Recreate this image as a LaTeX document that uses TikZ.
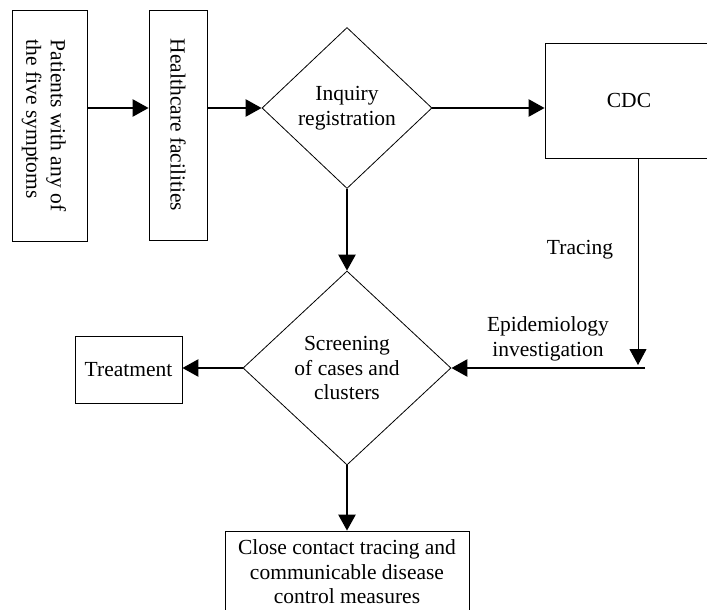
\documentclass[tikz,border=0pt]{standalone}
\usepackage{fontspec}
\setmainfont{Liberation Serif}
\usetikzlibrary{shapes.geometric, arrows.meta, positioning}

\begin{document}
\begin{tikzpicture}[x=1pt, y=-1pt,
    >={Triangle[length=16pt, width=17pt]},
    every node/.style={font=\fontsize{21.5}{24.5}\selectfont},
    box/.style={draw, line width=0.8pt, inner sep=0pt, align=center},
    decision/.style={diamond, draw, line width=0.8pt, inner sep=0pt, align=center},
    flow/.style={->, line width=2.5pt},
    thinflow/.style={->, line width=0.9pt}]

    \useasboundingbox (0,0) rectangle (707,610);
    \clip (0,0) rectangle (707,610);

    % =================================================================
    % HÀNG TRÊN: BỆNH NHÂN -> CƠ SỞ Y TẾ -> ĐĂNG KÝ -> CDC
    % =================================================================
    \node[box, minimum width=75, minimum height=231] (patients) at (49.5,125.5)
        {\rotatebox{-90}{\raisebox{-6pt}[\height][\depth]{\begin{tabular}{@{}l@{}}Patients with any of\\the five symptoms\end{tabular}}}};
    \node[box, minimum width=58, minimum height=230] (health) at (178,125)
        {\rotatebox{-90}{Healthcare facilities}};
    \node[decision, minimum width=170, minimum height=161] (inquiry) at (347,108)
        {Inquiry\\registration};
    \node[box, minimum width=168, minimum height=115] (cdc) at (629,100.5) {CDC};

    \draw[flow] (patients.east |- inquiry) -- (health.west |- inquiry);
    \draw[flow] (health.east |- inquiry) -- (inquiry.west);
    \draw[flow] (inquiry.east) -- (cdc.west |- inquiry.east);

    % =================================================================
    % PHẦN DƯỚI: SÀNG LỌC, ĐIỀU TRỊ, TRUY VẾT
    % =================================================================
    \node[decision, minimum width=208, minimum height=194] (screening) at (347,368)
        {Screening\\of cases and\\clusters};
    \node[box, minimum width=107, minimum height=67] (treatment) at (128.5,369.5) {Treatment};
    \node[box, minimum width=244, minimum height=82] (closecontact) at (347,572)
        {Close contact tracing and\\communicable disease\\control measures};

    \draw[flow] (inquiry.south) -- (screening.north);
    \draw[flow] (screening.west) -- (treatment.east |- screening.west);
    \draw[flow] (screening.south) -- (closecontact.north);

    % Nhánh CDC: truy vết và điều tra dịch tễ
    \coordinate (tracend) at (638,365);
    \coordinate (epistart) at (645,368);
    \draw[thinflow] (cdc.south -| tracend) -- (tracend);
    \draw[flow] (epistart) -- (screening.east);

    \node (tracing) at (580,250) {Tracing};
    \node[align=center] (epidemiology) at (548,339) {Epidemiology\\investigation};

\end{tikzpicture}
\end{document}
